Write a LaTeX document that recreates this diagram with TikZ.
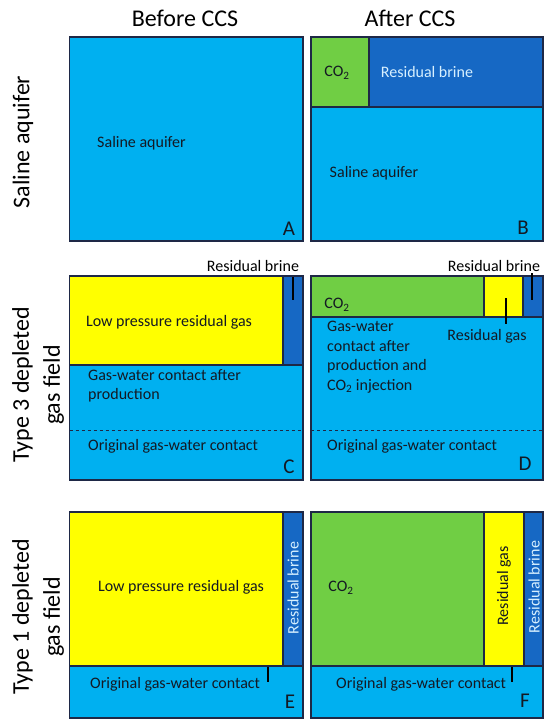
\documentclass[tikz,border=0pt]{standalone}
\usepackage{fontspec}
\setmainfont{Carlito}
\definecolor{aqua}{RGB}{0,176,240}
\definecolor{gasgreen}{RGB}{112,206,68}
\definecolor{gasyellow}{RGB}{255,255,0}
\definecolor{brinecol}{RGB}{22,104,196}
\definecolor{edgecol}{RGB}{30,40,70}
\definecolor{lighttext}{RGB}{215,240,255}
\definecolor{darktext}{RGB}{20,25,35}
\tikzset{
  region/.style={draw=edgecol, line width=1.2pt},
  panelbox/.style={draw=edgecol, line width=1.5pt},
  lbl/.style={inner sep=0pt, font=\fontsize{16}{19.5}\selectfont, text=darktext},
  lightlbl/.style={lbl, text=lighttext},
  letter/.style={inner sep=0pt, font=\fontsize{21}{24}\selectfont, text=darktext},
  head/.style={inner sep=0pt, font=\fontsize{24}{31}\selectfont, text=black, align=center},
  leader/.style={line width=1.4pt, draw=black},
  gwc/.style={draw=edgecol, line width=0.7pt, dashed}
}
\begin{document}
\begin{tikzpicture}[x=1pt,y=-1pt]
\useasboundingbox[fill=white] (0,0) rectangle (550,727);

% headers
\node[head] (hBefore) at (185,18) {Before CCS};
\node[head] (hAfter) at (410,18) {After CCS};
\node[head, rotate=90] (rowA) at (23,142) {Saline aquifer};
\node[head, rotate=90] (rowB) at (38,385) {Type 3 depleted\\gas field};
\node[head, rotate=90] (rowC) at (38,617) {Type 1 depleted\\gas field};

% ---------- Panel A ----------
\fill[aqua] (69.5,37) rectangle (303,241);
\draw[panelbox] (69.5,37) rectangle (303,241);
\node[lbl] (tA) at (141.5,143) {Saline aquifer};
\node[letter] (lA) at (289,229) {A};

% ---------- Panel B ----------
\fill[aqua] (311,37) rectangle (543,241);
\filldraw[region, fill=gasgreen] (311,37) rectangle (369,107);
\filldraw[region, fill=brinecol] (369,37) rectangle (543,107);
\draw[panelbox] (311,37) rectangle (543,241);
\node[lbl] (co2B) at (337,73) {CO\textsubscript{2}};
\node[lightlbl] (rbB) at (427,72) {Residual brine};
\node[lbl] (tB) at (374,173) {Saline aquifer};
\node[letter] (lB) at (523,228) {B};

% ---------- Panel C ----------
\fill[aqua] (69.5,276) rectangle (303,480);
\filldraw[region, fill=gasyellow] (69.5,276) rectangle (283,365);
\filldraw[region, fill=brinecol] (283,276) rectangle (303,365);
\draw[gwc] (69.5,430) -- (303,430);
\draw[panelbox] (69.5,276) rectangle (303,480);
\node[lbl, text=black] (rbC) at (253,266) {Residual brine};
\coordinate (rbC1) at (293,277);
\coordinate (rbC2) at (293,300);
\draw[leader] (rbC1) -- (rbC2);
\node[lbl] (lpC) at (169,322) {Low pressure residual gas};
\node[lbl, align=left, anchor=north west] (gwC) at (88,369) {Gas-water contact after\\production};
\node[lbl, anchor=base west] (ogC) at (88,450) {Original gas-water contact};
\node[letter] (lC) at (289,467) {C};

% ---------- Panel D ----------
\fill[aqua] (311,276) rectangle (543,480);
\filldraw[region, fill=gasgreen] (311,276) rectangle (484,317);
\filldraw[region, fill=gasyellow] (484,276) rectangle (523,317);
\filldraw[region, fill=brinecol] (523,276) rectangle (543,317);
\draw[gwc] (311,430) -- (543,430);
\draw[panelbox] (311,276) rectangle (543,480);
\node[lbl, text=black] (rbD) at (494,266) {Residual brine};
\coordinate (rbD1) at (532,273);
\coordinate (rbD2) at (532,300);
\draw[leader] (rbD1) -- (rbD2);
\node[lbl] (co2D) at (337,305) {CO\textsubscript{2}};
\node[lbl] (rgD) at (487,336) {Residual gas};
\coordinate (rgD1) at (506,298);
\coordinate (rgD2) at (506,324);
\draw[leader] (rgD1) -- (rgD2);
\node[lbl, align=left, anchor=north west] (gwD) at (327,321) {Gas-water\\contact after\\production and\\CO\textsubscript{2} injection};
\node[lbl, anchor=base west] (ogD) at (327,450) {Original gas-water contact};
\node[letter] (lD) at (525,464) {D};

% ---------- Panel E ----------
\fill[aqua] (69.5,512) rectangle (303,718);
\filldraw[region, fill=gasyellow] (69.5,512) rectangle (283,666);
\filldraw[region, fill=brinecol] (283,512) rectangle (303,666);
\draw[panelbox] (69.5,512) rectangle (303,718);
\node[lightlbl, rotate=90] (rbE) at (293,588) {Residual brine};
\node[lbl] (lpE) at (181,587) {Low pressure residual gas};
\node[lbl, anchor=base west] (ogE) at (90,688) {Original gas-water contact};
\coordinate (ogE1) at (268,667);
\coordinate (ogE2) at (268,682);
\draw[leader] (ogE1) -- (ogE2);
\node[letter] (lE) at (290,702) {E};

% ---------- Panel F ----------
\fill[aqua] (311,512) rectangle (543,718);
\filldraw[region, fill=gasgreen] (311,512) rectangle (484,666);
\filldraw[region, fill=gasyellow] (484,512) rectangle (524,666);
\filldraw[region, fill=brinecol] (524,512) rectangle (543,666);
\draw[panelbox] (311,512) rectangle (543,718);
\node[lbl] (co2F) at (341,588) {CO\textsubscript{2}};
\node[lbl, rotate=90] (rgF) at (504,586) {Residual gas};
\node[lightlbl, rotate=90] (rbF) at (534,587) {Residual brine};
\node[lbl, anchor=base west] (ogF) at (336,688) {Original gas-water contact};
\coordinate (ogF1) at (512,667);
\coordinate (ogF2) at (512,682);
\draw[leader] (ogF1) -- (ogF2);
\node[letter] (lF) at (525,701) {F};
\end{tikzpicture}
\end{document}
